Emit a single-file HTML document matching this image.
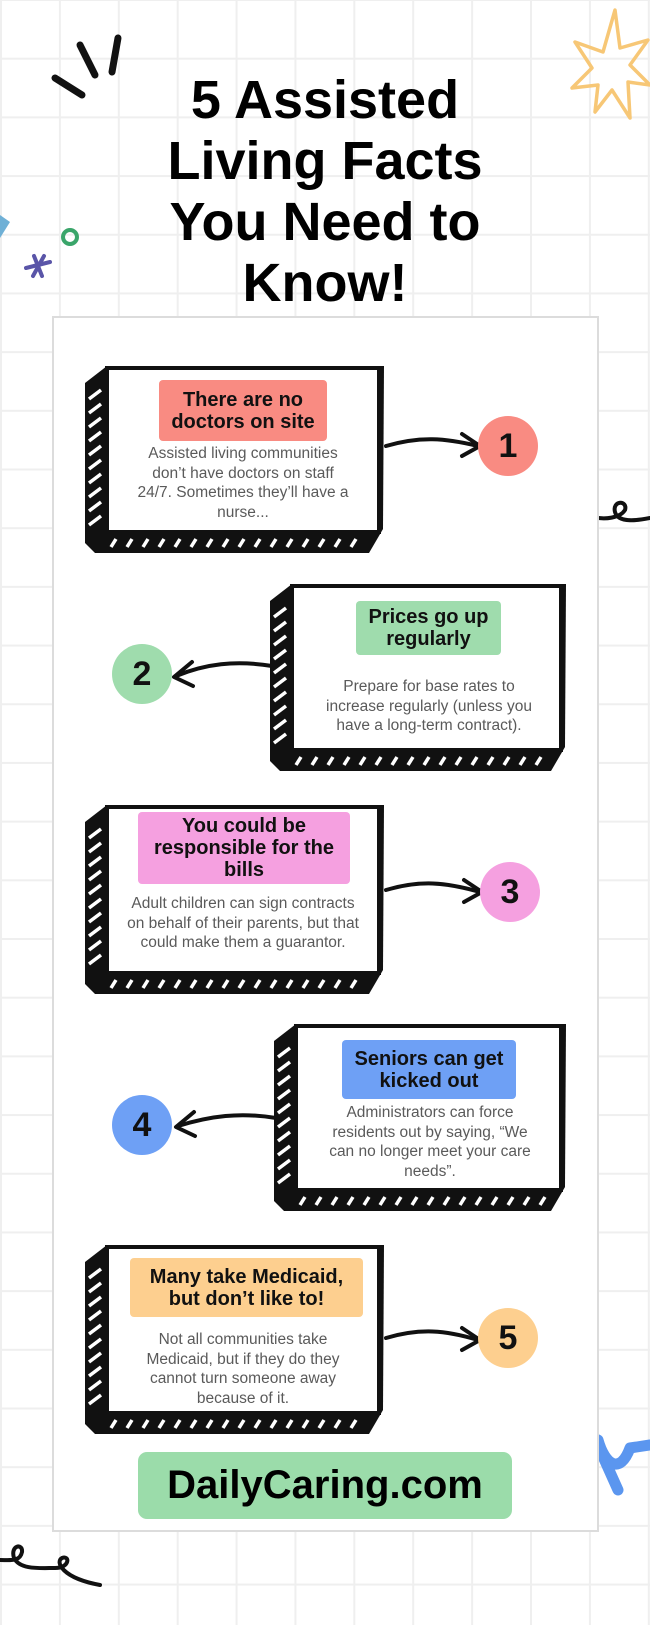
<!DOCTYPE html>
<html><head><meta charset="utf-8"><style>
*{margin:0;padding:0;box-sizing:border-box}
body{width:650px;height:1625px;position:relative;overflow:hidden;background:#fff;
background-image:linear-gradient(#efefef 2px,transparent 2px),linear-gradient(90deg,#efefef 2px,transparent 2px);
background-size:58.9px 58.7px;background-position:0 -1px;font-family:"Liberation Sans",sans-serif}
.title{position:absolute;left:0;width:650px;top:70px;text-align:center;font-weight:bold;font-size:54px;line-height:61px;color:#000}
.panel{position:absolute;left:52px;top:316px;width:547px;height:1216px;background:#fff;border:2px solid #dcdcdc}
.card{position:absolute}
.card svg{position:absolute;left:0;top:0}
.hd{position:absolute;font-weight:bold;font-size:20px;line-height:22px;text-align:center;color:#111;border-radius:4px;display:flex;align-items:center;justify-content:center}
.bd{position:absolute;font-size:15.5px;line-height:19.7px;text-align:center;color:#5a5a5a}
.circ{position:absolute;width:60px;height:60px;border-radius:50%;font-weight:bold;font-size:34px;line-height:60px;text-align:center;color:#111}
.arr{position:absolute;left:0;top:0}
.btn{position:absolute;left:138px;top:1452px;width:374px;height:67px;background:#9bdcaa;border-radius:9px;font-weight:bold;font-size:40px;line-height:67px;text-align:center;color:#000}
</style></head><body>
<svg width="650" height="1625" style="position:absolute;left:0;top:0">
<g stroke="#111" stroke-width="7" stroke-linecap="round" fill="none">
<line x1="55" y1="78" x2="82" y2="95"/><line x1="80" y1="45" x2="95" y2="75"/><line x1="118" y1="38" x2="112" y2="72"/>
</g>
<path d="M615 10 L620 48 L648 40 L630 65 L650 85 L628 82 L630 118 L612 90 L595 112 L598 85 L572 88 L592 68 L575 42 L603 52 Z" fill="none" stroke="#f7c776" stroke-width="3.5" stroke-linejoin="round"/>
<path d="M0 215 L10 222 L0 238 Z" fill="#6fb0d6"/>
<circle cx="70" cy="237" r="7" fill="none" stroke="#3aa56a" stroke-width="4"/>
<g stroke="#5a55a8" stroke-width="4" stroke-linecap="round"><line x1="26" y1="268" x2="50" y2="262"/><line x1="34" y1="256" x2="42" y2="276"/><line x1="44" y1="256" x2="33" y2="276"/></g>
<path d="M593 517 C605 520 620 518 625 510 C628 500 612 500 615 512 C618 524 640 520 650 518" fill="none" stroke="#111" stroke-width="4" stroke-linecap="round"/>
<path d="M0 1560 C10 1560 20 1562 22 1552 C23 1543 10 1545 14 1558 C20 1570 40 1568 55 1568 C70 1568 70 1555 62 1558 C55 1562 62 1578 100 1585" fill="none" stroke="#111" stroke-width="4" stroke-linecap="round"/>
<path d="M592 1432 L618 1490 M598 1440 C605 1465 620 1475 630 1448 L650 1445" fill="none" stroke="#5b96ef" stroke-width="11" stroke-linecap="round" stroke-linejoin="round"/>
</svg>
<div class="title">5 Assisted<br>Living Facts<br>You Need to<br>Know!</div>
<div class="panel"></div>

<svg class="arr" width="650" height="1625" style="position:absolute">
<g fill="none" stroke="#111" stroke-width="4" stroke-linecap="round" stroke-linejoin="round">
<path d="M386 446 C420 436 445 438 478 446"/><path d="M462 434 L480 446 L462 456"/>
<path d="M272 666 C235 660 205 664 176 676"/><path d="M192 662 L174 677 L193 686"/>
<path d="M386 890 C420 880 445 882 480 892"/><path d="M464 880 L482 892 L464 902"/>
<path d="M276 1118 C240 1112 210 1116 178 1126"/><path d="M194 1112 L176 1127 L195 1136"/>
<path d="M386 1338 C420 1328 445 1330 478 1340"/><path d="M462 1328 L480 1340 L462 1350"/>
</g>
</svg>

<div class="card" style="left:83px;top:363px;width:303px;height:192px">
<svg width="303" height="192"><path d="M2 20 L24 3 L301 3 L300 166 L286 190 L12 190 L2 180 Z" fill="#111"/>
<g stroke="#fff" stroke-width="3.5"><path d="M6 36l12-9M6 50l12-9M6 64l12-9M6 78l12-9M6 92l12-9M6 106l12-9M6 120l12-9M6 134l12-9M6 148l12-9M6 162l12-9"/>
<path d="M28 184l5-8M44 184l5-8M60 184l5-8M76 184l5-8M92 184l5-8M108 184l5-8M124 184l5-8M140 184l5-8M156 184l5-8M172 184l5-8M188 184l5-8M204 184l5-8M220 184l5-8M236 184l5-8M252 184l5-8M268 184l5-8"/></g>
<rect x="24" y="5" width="272" height="164" fill="#fff" stroke="#111" stroke-width="4"/></svg>
<div class="hd" style="left:76px;top:17px;width:168px;height:61px;background:#f98b82">There are no<br>doctors on site</div>
<div class="bd" style="left:50px;top:81px;width:220px">Assisted living communities don’t have doctors on staff 24/7. Sometimes they’ll have a nurse...</div>
</div>
<div class="circ" style="left:478px;top:416px;background:#f98b82">1</div>

<div class="card" style="left:268px;top:581px;width:300px;height:192px">
<svg width="300" height="192"><path d="M2 20 L24 3 L298 3 L297 166 L283 190 L12 190 L2 180 Z" fill="#111"/>
<g stroke="#fff" stroke-width="3.5"><path d="M6 36l12-9M6 50l12-9M6 64l12-9M6 78l12-9M6 92l12-9M6 106l12-9M6 120l12-9M6 134l12-9M6 148l12-9M6 162l12-9"/>
<path d="M28 184l5-8M44 184l5-8M60 184l5-8M76 184l5-8M92 184l5-8M108 184l5-8M124 184l5-8M140 184l5-8M156 184l5-8M172 184l5-8M188 184l5-8M204 184l5-8M220 184l5-8M236 184l5-8M252 184l5-8M268 184l5-8"/></g>
<rect x="24" y="5" width="269" height="164" fill="#fff" stroke="#111" stroke-width="4"/></svg>
<div class="hd" style="left:88px;top:20px;width:145px;height:54px;background:#9fdcad">Prices go up<br>regularly</div>
<div class="bd" style="left:45px;top:96px;width:232px">Prepare for base rates to increase regularly (unless you have a long-term contract).</div>
</div>
<div class="circ" style="left:112px;top:644px;background:#9fdcad">2</div>

<div class="card" style="left:83px;top:802px;width:303px;height:194px">
<svg width="303" height="194"><path d="M2 20 L24 3 L301 3 L300 168 L286 192 L12 192 L2 182 Z" fill="#111"/>
<g stroke="#fff" stroke-width="3.5"><path d="M6 36l12-9M6 50l12-9M6 64l12-9M6 78l12-9M6 92l12-9M6 106l12-9M6 120l12-9M6 134l12-9M6 148l12-9M6 162l12-9"/>
<path d="M28 186l5-8M44 186l5-8M60 186l5-8M76 186l5-8M92 186l5-8M108 186l5-8M124 186l5-8M140 186l5-8M156 186l5-8M172 186l5-8M188 186l5-8M204 186l5-8M220 186l5-8M236 186l5-8M252 186l5-8M268 186l5-8"/></g>
<rect x="24" y="5" width="272" height="166" fill="#fff" stroke="#111" stroke-width="4"/></svg>
<div class="hd" style="left:55px;top:10px;width:212px;height:72px;background:#f5a0e0">You could be<br>responsible for the<br>bills</div>
<div class="bd" style="left:44px;top:92px;width:232px">Adult children can sign contracts on behalf of their parents, but that could make them a guarantor.</div>
</div>
<div class="circ" style="left:480px;top:862px;background:#f5a0e0">3</div>

<div class="card" style="left:272px;top:1021px;width:296px;height:192px">
<svg width="296" height="192"><path d="M2 20 L24 3 L294 3 L293 166 L279 190 L12 190 L2 180 Z" fill="#111"/>
<g stroke="#fff" stroke-width="3.5"><path d="M6 36l12-9M6 50l12-9M6 64l12-9M6 78l12-9M6 92l12-9M6 106l12-9M6 120l12-9M6 134l12-9M6 148l12-9M6 162l12-9"/>
<path d="M28 184l5-8M44 184l5-8M60 184l5-8M76 184l5-8M92 184l5-8M108 184l5-8M124 184l5-8M140 184l5-8M156 184l5-8M172 184l5-8M188 184l5-8M204 184l5-8M220 184l5-8M236 184l5-8M252 184l5-8M268 184l5-8"/></g>
<rect x="24" y="5" width="265" height="164" fill="#fff" stroke="#111" stroke-width="4"/></svg>
<div class="hd" style="left:70px;top:19px;width:174px;height:59px;background:#6ea0f5">Seniors can get<br>kicked out</div>
<div class="bd" style="left:50px;top:82px;width:216px">Administrators can force residents out by saying, “We can no longer meet your care needs”.</div>
</div>
<div class="circ" style="left:112px;top:1095px;background:#6ea0f5">4</div>

<div class="card" style="left:83px;top:1242px;width:303px;height:194px">
<svg width="303" height="194"><path d="M2 20 L24 3 L301 3 L300 168 L286 192 L12 192 L2 182 Z" fill="#111"/>
<g stroke="#fff" stroke-width="3.5"><path d="M6 36l12-9M6 50l12-9M6 64l12-9M6 78l12-9M6 92l12-9M6 106l12-9M6 120l12-9M6 134l12-9M6 148l12-9M6 162l12-9"/>
<path d="M28 186l5-8M44 186l5-8M60 186l5-8M76 186l5-8M92 186l5-8M108 186l5-8M124 186l5-8M140 186l5-8M156 186l5-8M172 186l5-8M188 186l5-8M204 186l5-8M220 186l5-8M236 186l5-8M252 186l5-8M268 186l5-8"/></g>
<rect x="24" y="5" width="272" height="166" fill="#fff" stroke="#111" stroke-width="4"/></svg>
<div class="hd" style="left:47px;top:16px;width:233px;height:59px;background:#fdcf8f">Many take Medicaid,<br>but don’t like to!</div>
<div class="bd" style="left:48px;top:88px;width:224px">Not all communities take Medicaid, but if they do they cannot turn someone away because of it.</div>
</div>
<div class="circ" style="left:478px;top:1308px;background:#fdcf8f">5</div>

<div class="btn">DailyCaring.com</div>
</body></html>
